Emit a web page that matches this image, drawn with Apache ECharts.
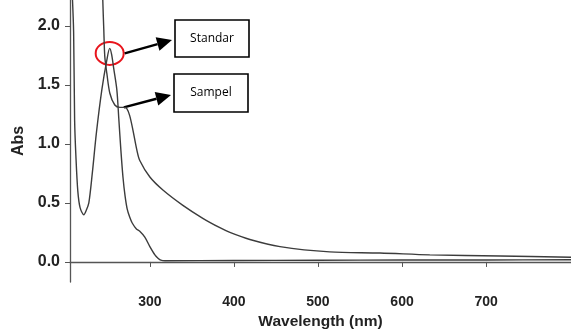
<!DOCTYPE html>
<html>
<head>
<meta charset="utf-8">
<script src="https://cdn.jsdelivr.net/npm/echarts@6/dist/echarts.min.js"></script>
<style>
  html, body { margin: 0; padding: 0; background: #fff; }
  #chart { width: 571px; height: 329px; }
</style>
</head>
<body>
<div id="chart"></div>
<script>
// wavelength (nm) / absorbance
const standarWl = [205.5, 207.5, 209.3, 210.5, 212, 214.3, 217, 221.4, 224.5, 227.4, 231.5, 236.5, 242.9, 248.8, 252.2, 254.5, 257, 260.7, 263, 265.5, 268, 270.5, 273, 276, 279, 284, 288, 294, 300, 306, 310, 313, 318, 400, 500, 600, 700, 801];
const standarAbs = [2.6, 2.3, 1.95, 1.2, 0.9, 0.6, 0.46, 0.40, 0.44, 0.5, 0.75, 1.1, 1.46, 1.71, 1.81, 1.76, 1.64, 1.46, 1.22, 0.95, 0.72, 0.56, 0.45, 0.38, 0.33, 0.28, 0.26, 0.21, 0.13, 0.06, 0.03, 0.015, 0.01, 0.012, 0.014, 0.016, 0.017, 0.018];

const sampelWl = [205, 243, 244, 245.2, 246.4, 248.8, 252.4, 258.3, 264.3, 269, 272.6, 276, 279.8, 284.5, 288, 300, 315.5, 339.3, 363, 383.3, 395.2, 419, 454.8, 514, 573.8, 633, 716.7, 801];
const sampelAbs = [2.6, 2.6, 2.22, 1.97, 1.74, 1.6, 1.43, 1.33, 1.31, 1.31, 1.3, 1.24, 1.12, 0.95, 0.86, 0.72, 0.61, 0.48, 0.37, 0.29, 0.25, 0.19, 0.13, 0.085, 0.076, 0.06, 0.05, 0.04];

const xTicks = [300, 400, 500, 600, 700];
const yTicks = [0, 0.5, 1.0, 1.5, 2.0];

const labels = ["Standar", "Sampel"];

const chart = echarts.init(document.getElementById("chart"));

const lineColor = "#3c3c3c";
const axisColor = "#555";

const option = {
  animation: false,
  grid: { left: 70, right: 0, top: 0, bottom: 47, outerBoundsMode: "none" },
  xAxis: {
    type: "value",
    min: 205,
    max: 801,
    name: "Wavelength (nm)",
    nameLocation: "middle",
    nameGap: 30,
    nameTextStyle: { fontFamily: "Liberation Sans", fontWeight: "bold", fontSize: 15.5, color: "#222" },
    axisLine: { lineStyle: { color: axisColor, width: 1.3 } },
    axisTick: { show: true, length: 5, customValues: xTicks, lineStyle: { color: axisColor } },
    axisLabel: {
      customValues: xTicks,
      margin: 13,
      fontFamily: "Liberation Sans",
      fontWeight: "bold",
      fontSize: 14,
      color: "#222",
    },
    splitLine: { show: false },
  },
  yAxis: {
    type: "value",
    min: -0.17,
    max: 2.22,
    name: "Abs",
    nameLocation: "middle",
    nameRotate: 90,
    nameGap: 42,
    nameTextStyle: { fontFamily: "Liberation Sans", fontWeight: "bold", fontSize: 16, color: "#222" },
    axisLine: { show: true, lineStyle: { color: axisColor, width: 1.3 } },
    axisTick: { show: true, length: 5, customValues: yTicks, lineStyle: { color: axisColor } },
    axisLabel: {
      customValues: yTicks,
      margin: 10,
      fontFamily: "Liberation Sans",
      fontWeight: "bold",
      fontSize: 16,
      color: "#222",
      formatter: (v) => v.toFixed(1),
    },
    splitLine: { show: false },
  },
  series: [
    {
      name: labels[0],
      type: "line",
      showSymbol: false,
      smooth: 0.3,
      lineStyle: { color: lineColor, width: 1.4 },
      data: standarWl.map((w, i) => [w, standarAbs[i]]),
    },
    {
      name: labels[1],
      type: "line",
      showSymbol: false,
      smooth: 0.3,
      lineStyle: { color: lineColor, width: 1.4 },
      data: sampelWl.map((w, i) => [w, sampelAbs[i]]),
    },
  ],
};

chart.setOption(option);

// annotations: red ring on the standard peak, arrows to the label boxes
const peak = chart.convertToPixel({ gridIndex: 0 }, [252.2, 1.81]);
const shoulder = chart.convertToPixel({ gridIndex: 0 }, [269, 1.31]);

function arrow(x1, y1, x2, y2) {
  const ang = Math.atan2(y2 - y1, x2 - x1);
  const len = 15, half = 7;
  const bx = x2 - len * Math.cos(ang), by = y2 - len * Math.sin(ang);
  const px = -Math.sin(ang) * half, py = Math.cos(ang) * half;
  return [
    { type: "line", shape: { x1, y1, x2: bx, y2: by }, style: { stroke: "#000", lineWidth: 2.5 } },
    { type: "polygon", shape: { points: [[x2, y2], [bx + px, by + py], [bx - px, by - py]] }, style: { fill: "#000" } },
  ];
}

function box(x, y, w, h, text) {
  return [
    { type: "rect", shape: { x, y, width: w, height: h }, style: { fill: "#fff", stroke: "#000", lineWidth: 1.6 } },
    {
      type: "text",
      x: x + w / 2,
      y: y + h / 2,
      style: { text, fill: "#000", fontFamily: "Open Sans", fontSize: 12, align: "center", verticalAlign: "middle" },
    },
  ];
}

chart.setOption({
  graphic: [
    {
      type: "ellipse",
      shape: { cx: peak[0], cy: peak[1] + 5, rx: 14, ry: 11.5 },
      style: { fill: "none", stroke: "#e8141c", lineWidth: 2 },
    },
    ...arrow(peak[0] + 15, peak[1] + 5, 172, 40),
    ...arrow(shoulder[0], shoulder[1], 171, 95),
    ...box(175, 20, 74, 37, labels[0]),
    ...box(174, 74, 74, 38, labels[1]),
  ],
});
</script>
</body>
</html>
